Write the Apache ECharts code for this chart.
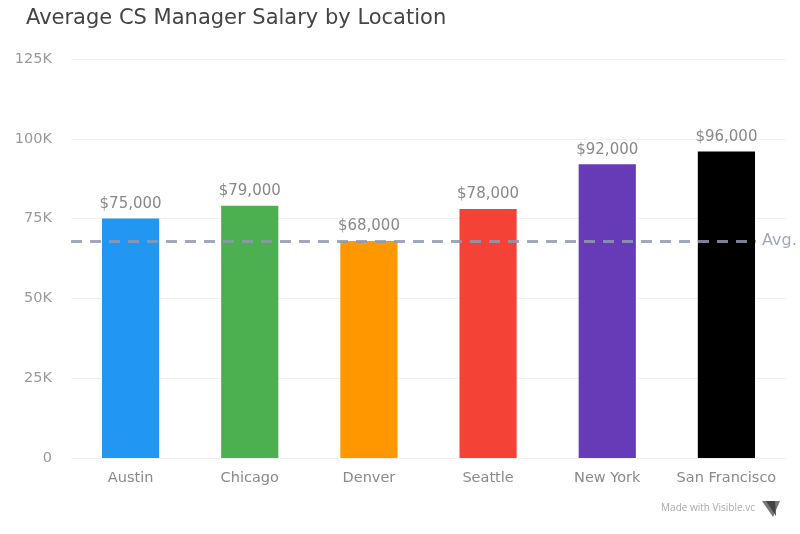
<!DOCTYPE html>
<html><head><meta charset="utf-8">
<script src="https://cdn.jsdelivr.net/npm/echarts@6/dist/echarts.min.js"></script>
<style>html,body{margin:0;padding:0;background:#fff}#c{width:800px;height:534px}</style>
</head><body><div id="c"></div>
<script>
const categories = ['Austin', 'Chicago', 'Denver', 'Seattle', 'New York', 'San Francisco'];
const salaries = [75000, 79000, 68000, 78000, 92000, 96000];
const barColors = ['#2196F3', '#4CAF50', '#FF9800', '#F44336', '#673AB7', '#000000'];
const avgValue = 68000;
const yTicks = [0, 25000, 50000, 75000, 100000, 125000];

const chart = echarts.init(document.getElementById('c'), null, {renderer: 'canvas'});
const font = 'DejaVu Sans';
chart.setOption({
  animation: false,
  textStyle: {fontFamily: font},
  title: {
    text: 'Average CS Manager Salary by Location',
    left: 21, top: 3,
    textStyle: {fontFamily: font, fontSize: 21, fontWeight: 'normal', color: '#444'}
  },
  grid: {left: 71, right: 14, top: 59, bottom: 76, containLabel: false},
  xAxis: {
    type: 'category',
    data: categories,
    axisLine: {show: false},
    axisTick: {show: false},
    axisLabel: {color: '#8a8a8a', fontSize: 14.5, margin: 13, interval: 0, fontFamily: font}
  },
  yAxis: {
    type: 'value',
    min: yTicks[0], max: yTicks[yTicks.length - 1], interval: 25000,
    axisLine: {show: false},
    axisTick: {show: false},
    splitLine: {lineStyle: {color: '#f0f0f0', width: 1}},
    axisLabel: {
      color: '#999', fontSize: 14.5, margin: 19, fontFamily: font,
      formatter: v => v === 0 ? '0' : (v / 1000) + 'K'
    }
  },
  series: [{
    type: 'bar',
    barWidth: '48%',
    data: salaries.map((v, i) => ({value: v, itemStyle: {color: barColors[i]}})),
    label: {
      show: true, position: 'top', distance: 7,
      color: '#888', fontSize: 15, fontFamily: font,
      formatter: p => '$' + p.value.toLocaleString('en-US')
    },
    markLine: {
      silent: true,
      symbol: ['none', 'none'],
      lineStyle: {color: '#8f99ad', width: 3, type: [11, 8], opacity: 0.85},
      label: {show: true, position: 'end', formatter: 'Avg.', color: '#8f99ad', fontSize: 16, fontFamily: font, distance: 6},
      data: [[{yAxis: avgValue, x: 71}, {yAxis: avgValue, x: 756}]]
    }
  }],
  graphic: [
    {type: 'text', right: 45, top: 503, style: {text: 'Made with Visible.vc', fill: '#aaa', font: '10px "Open Sans"'}},
    {type: 'polygon', right: 20, top: 501, shape: {points: [[0, 0], [18, 0], [11, 16]]}, style: {fill: '#777'}},
    {type: 'polygon', right: 24, top: 501, shape: {points: [[0, 0], [9, 0], [10, 15]]}, style: {fill: '#444'}}
  ]
});
</script></body></html>
